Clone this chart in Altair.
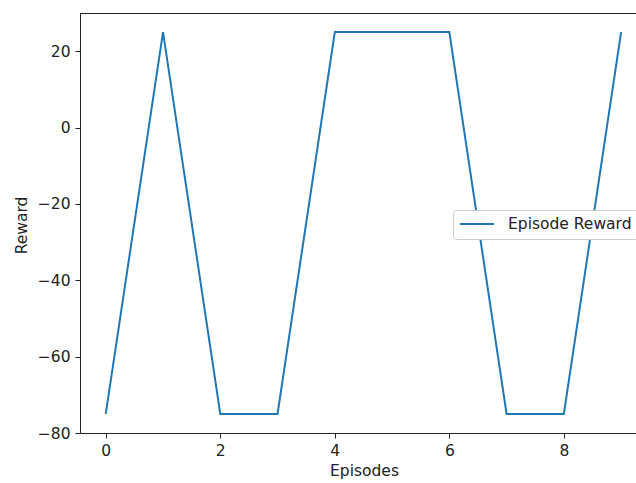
import altair as alt
import pandas as pd

episodes = [0, 1, 2, 3, 4, 5, 6, 7, 8, 9]
rewards = [-75, 25, -75, -75, 25, 25, 25, -75, -75, 25]
series = ["Episode Reward"] * len(episodes)
x_ticks = [0, 2, 4, 6, 8]
y_ticks = [-80, -60, -40, -20, 0, 20]

df = pd.DataFrame({"Episodes": episodes, "Reward": rewards, "series": series})

W, H = 556, 420
FONT = "DejaVu Sans"
FS = 15.5

line = alt.Chart(df).mark_line(strokeWidth=2, clip=True).encode(
    x=alt.X("Episodes:Q",
            scale=alt.Scale(domain=[-0.45, 9.26], nice=False, zero=False),
            axis=alt.Axis(values=x_ticks, format="d", title="Episodes",
                          titleX=284, titleY=37, titleBaseline="middle")),
    y=alt.Y("Reward:Q",
            scale=alt.Scale(domain=[-80, 30], nice=False, zero=False),
            axis=alt.Axis(values=y_ticks, format="d", title="Reward",
                          titleX=-59, titleY=212, titleBaseline="middle")),
    color=alt.Color("series:N",
                    scale=alt.Scale(range=["#1f77b4"]),
                    legend=alt.Legend(title=None, orient="none",
                                      legendX=373, legendY=197,
                                      symbolType="stroke", symbolSize=1156,
                                      symbolStrokeWidth=2, labelOffset=13,
                                      clipHeight=16,
                                      labelFontSize=FS, labelFont=FONT,
                                      labelColor="#222222",
                                      strokeColor="#cccccc", fillColor="white",
                                      cornerRadius=3, padding=6)),
)

top_border = alt.Chart(df).mark_rule(color="#222222", strokeWidth=1).encode(
    x=alt.value(0), x2=alt.value(W + 20), y=alt.value(0.5)
)

chart = alt.layer(line, top_border).properties(
    width=W, height=H,
    background="white",
    autosize=alt.AutoSizeParams(type="none"),
    padding={"left": 80, "top": 13, "right": 0, "bottom": 50},
).configure_view(stroke=None).configure_axis(
    grid=False, domainColor="#222222", domainWidth=1,
    tickColor="#222222", tickSize=5, tickWidth=1,
    labelFont=FONT, labelFontSize=FS, labelColor="#222222", labelPadding=5,
    titleFont=FONT, titleFontSize=FS, titleFontWeight="normal", titleColor="#222222",
)

chart.save("out.html", embed_options={"renderer": "svg", "actions": False})
